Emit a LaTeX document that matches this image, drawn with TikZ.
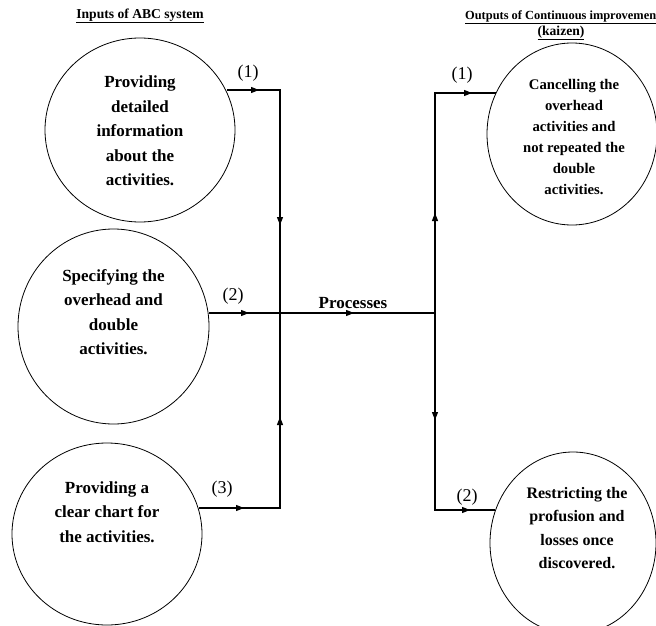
\documentclass[tikz,border=0pt]{standalone}
\usepackage{fontspec}
\setmainfont{Liberation Serif}
\usetikzlibrary{arrows.meta,decorations.markings,shapes.geometric}
\tikzset{
  circ/.style={draw, ellipse, line width=0.8pt, inner sep=0pt},
  ctext/.style={align=center, font=\bfseries\fontsize{17}{24.5}\selectfont, inner sep=0pt},
  rtext/.style={align=center, font=\bfseries\fontsize{14.7}{21}\selectfont, inner sep=0pt},
  head/.style={font=\bfseries\fontsize{13.6}{17}\selectfont, inner sep=0pt},
  num/.style={font=\fontsize{18}{20}\selectfont, inner sep=0pt},
  conn/.style={line width=1.1pt},
  arrat/.style={postaction={decorate,decoration={markings,
      mark=at position #1 with {\arrow{Triangle[length=8pt,width=6pt]}}}}}
}
\begin{document}
\begin{tikzpicture}[x=1pt,y=-1pt]
\useasboundingbox (0,0) rectangle (656,626);
\clip (0,0) rectangle (656,626);
% headers
\node[head] (h1) at (140,16) {\underline{Inputs of ABC system}};
\node[head, font=\bfseries\fontsize{12.4}{15}\selectfont, anchor=west] (h2) at (465,17) {\underline{Outputs of Continuous improvemen}};
\node[head] (h3) at (561,33) {\underline{(kaizen)}};
% circles
\node[circ, minimum width=190pt, minimum height=184pt] (c1) at (140,130) {};
\node[circ, minimum width=191pt, minimum height=195pt] (c2) at (113.5,326.5) {};
\node[circ, minimum width=190pt, minimum height=182pt] (c3) at (107,534) {};
\node[circ, minimum width=170pt, minimum height=182pt] (r1) at (572,134) {};
\node[circ, minimum width=166pt, minimum height=182pt] (r2) at (573,543) {};
% circle texts
\node[ctext] (t1) at (140,131) {Providing\\detailed\\information\\about the\\activities.};
\node[ctext] (t2) at (113.5,312) {Specifying the\\overhead and\\double\\activities.};
\node[ctext] (t3) at (107,512) {Providing a\\clear chart for\\the activities.};
\node[rtext] (tr1) at (574,137.5) {Cancelling the\\overhead\\activities and\\not repeated the\\double\\activities.};
\node[font=\bfseries\fontsize{16}{23.5}\selectfont, align=center, inner sep=0pt] (tr2) at (577,528) {Restricting the\\profusion and\\losses once\\discovered.};
% coordinates
\coordinate (a1) at (227,90);
\coordinate (k1) at (280,90);
\coordinate (a2) at (209,313);
\coordinate (JL) at (280,313);
\coordinate (a3) at (199,508);
\coordinate (k3) at (280,508);
\coordinate (JR) at (435,313);
\coordinate (k4) at (435,93);
\coordinate (b1) at (496,93);
\coordinate (k5) at (435,510);
\coordinate (b2) at (495,510);
% connectors
\draw[conn, arrat=32pt, arrat=188pt] (a1) -- (k1) -- (JL);
\draw[conn, arrat=40pt] (a2) -- (JL);
\draw[conn, arrat=45pt, arrat=172pt] (a3) -- (k3) -- (JL);
\draw[conn, arrat=74pt] (JL) -- (JR);
\draw[conn, arrat=100pt, arrat=257pt] (JR) -- (k4) -- (b1);
\draw[conn, arrat=107pt, arrat=232pt] (JR) -- (k5) -- (b2);
% labels
\node[font=\bfseries\fontsize{17}{20}\selectfont, inner sep=0pt] (proc) at (353,303) {Processes};
\node[num] (n1) at (248,73) {(1)};
\node[num] (n2) at (233,296) {(2)};
\node[num] (n3) at (222,489) {(3)};
\node[num] (n4) at (462,75) {(1)};
\node[num] (n5) at (467,497) {(2)};
\end{tikzpicture}
\end{document}
